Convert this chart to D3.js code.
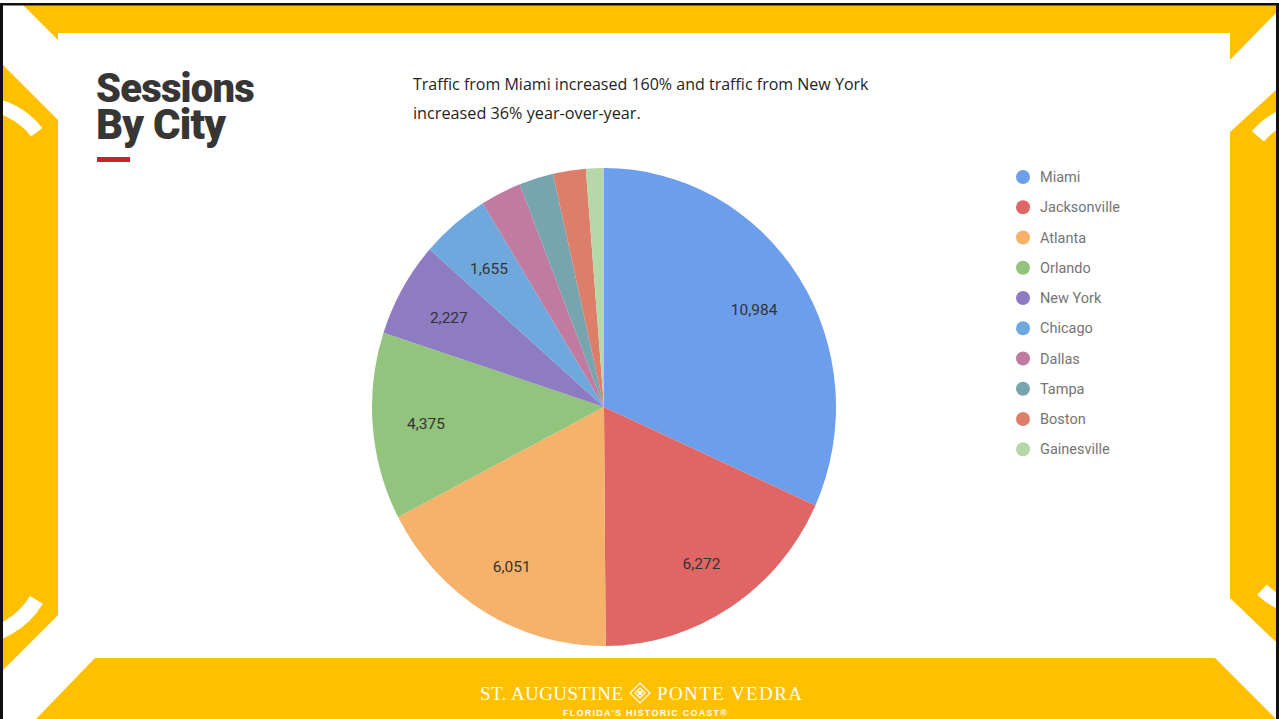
<!DOCTYPE html>
<html>
<head>
<meta charset="utf-8">
<script src="https://cdn.jsdelivr.net/npm/d3@7"></script>
<style>
  html, body { margin: 0; padding: 0; background: #fff; }
  svg { display: block; }
</style>
</head>
<body>
<div id="chart"></div>
<script>
// data
const cities = ["Miami", "Jacksonville", "Atlanta", "Orlando", "New York",
                "Chicago", "Dallas", "Tampa", "Boston", "Gainesville"];
const sessions = [10984, 6272, 6051, 4375, 2227, 1655, 980, 826, 788, 432];
const sliceColors = ["#6d9eeb", "#e06666", "#f6b26b", "#93c47d", "#8e7cc3",
                     "#6fa8dc", "#c27ba0", "#76a5af", "#dd7e6b", "#b6d7a8"];
const titleLines = ["Sessions", "By City"];
const noteLines = ["Traffic from Miami increased 160% and traffic from New York",
                   "increased 36% year-over-year."];

const W = 1279, H = 719;
const yellow = "#ffc000";

const svg = d3.select("#chart").append("svg")
  .attr("width", W)
  .attr("height", H);

svg.append("rect").attr("width", W).attr("height", H).attr("fill", "#fff");

// frame decoration
const frame = svg.append("g").attr("class", "frame");
const bands = [
  [[23,5],[1276,5],[1276,13],[1230,60],[1230,33],[58,33],[58,40]],
  [[3,65],[58,120],[58,615],[3,670]],
  [[1276,90],[1230,132],[1230,598],[1276,642]],
  [[95,658],[1215,658],[1276,719],[36,719]]
];
frame.selectAll("polygon").data(bands).enter().append("polygon")
  .attr("points", d => d.map(p => p.join(",")).join(" "))
  .attr("fill", yellow);

const deg = Math.PI / 180;
const rings = [
  {cx: -20, cy: 175, r0: 64, r1: 78, a0: 0, a1: 53},
  {cx: -30, cy: 560, r0: 70, r1: 85, a0: 121, a1: 180},
  {cx: 1310, cy: 180, r0: 60, r1: 76, a0: 310, a1: 360},
  {cx: 1310, cy: 540, r0: 62, r1: 76, a0: 180, a1: 224}
];
const ringArc = d3.arc();
frame.selectAll("path.ring").data(rings).enter().append("path")
  .attr("class", "ring")
  .attr("transform", d => `translate(${d.cx},${d.cy})`)
  .attr("d", d => ringArc({innerRadius: d.r0, outerRadius: d.r1,
                           startAngle: d.a0 * deg, endAngle: d.a1 * deg}))
  .attr("fill", "#fff");

// black edge lines
frame.append("rect").attr("x", 0).attr("y", 3).attr("width", W).attr("height", 2.5).attr("fill", "#111");
frame.append("rect").attr("x", 0).attr("y", 3).attr("width", 3).attr("height", H).attr("fill", "#111");
frame.append("rect").attr("x", 1276).attr("y", 3).attr("width", 3).attr("height", H).attr("fill", "#111");

// fit font size so that a text line has the wanted width
function fitWidth(sel, target) {
  const node = sel.node();
  const fs = parseFloat(sel.attr("font-size"));
  const len = node.getComputedTextLength();
  if (len > 0) sel.attr("font-size", fs * target / len);
}

// title, one text element with a tspan per line
const tWidths = [158, 129];
const title = svg.append("text")
  .attr("font-family", "Roboto, 'Noto Sans', sans-serif")
  .attr("font-weight", 900)
  .attr("letter-spacing", -0.8)
  .attr("fill", "#383634");
titleLines.forEach((t, i) => {
  const ts = title.append("tspan")
    .attr("x", 96)
    .attr("y", 102 + i * 37)
    .attr("font-size", 40)
    .text(t);
  const len = ts.node().getComputedTextLength();
  ts.attr("font-size", 40 * tWidths[i] / len);
});
svg.append("rect")
  .attr("x", 97).attr("y", 157).attr("width", 33).attr("height", 5)
  .attr("fill", "#d11f2e");

// note
const nWidths = [456, 228];
noteLines.forEach((t, i) => {
  const tx = svg.append("text")
    .attr("x", 413)
    .attr("y", 90 + i * 29)
    .attr("font-family", "'Open Sans', sans-serif")
    .attr("font-size", 16)
    .attr("fill", "#1e1e1e")
    .text(t);
  fitWidth(tx, nWidths[i]);
});

// pie
const cx = 604, cy = 407, rx = 232, ry = 239;
const pie = d3.pie().sort(null).value(d => d.value);
const slices = pie(cities.map((c, i) => ({city: c, value: sessions[i], color: sliceColors[i]})));
const arc = d3.arc().innerRadius(0).outerRadius(rx);
const labelArc = d3.arc().innerRadius(rx * 0.77).outerRadius(rx * 0.77);

const pieG = svg.append("g").attr("transform", `translate(${cx},${cy})`);
pieG.append("g").attr("transform", `scale(1,${ry / rx})`)
  .selectAll("path").data(slices).enter().append("path")
  .attr("d", arc)
  .attr("fill", d => d.data.color);

const fmt = d3.format(",");
pieG.selectAll("text").data(slices.filter(d => (d.endAngle - d.startAngle) > 14 * deg))
  .enter().append("text")
  .attr("x", d => labelArc.centroid(d)[0])
  .attr("y", d => labelArc.centroid(d)[1] * ry / rx + 2)
  .attr("dy", "0.35em")
  .attr("text-anchor", "middle")
  .attr("font-family", "Roboto, sans-serif")
  .attr("font-size", 15.5)
  .attr("fill", "#333")
  .text(d => fmt(d.data.value));

// legend
const legend = svg.append("g").attr("transform", "translate(1023,177)");
const legendRow = 30.25;
const items = legend.selectAll("g").data(cities).enter().append("g")
  .attr("transform", (d, i) => `translate(0,${i * legendRow})`);
items.append("circle").attr("r", 7).attr("fill", (d, i) => sliceColors[i]);
items.append("text")
  .attr("x", 17)
  .attr("dy", "0.35em")
  .attr("font-family", "Roboto, sans-serif")
  .attr("font-size", 14.5)
  .attr("fill", "#757575")
  .text(d => d);

// footer logo
const foot = svg.append("g").attr("fill", "#fff");
foot.append("text")
  .attr("x", 623).attr("y", 700)
  .attr("text-anchor", "end")
  .attr("font-family", "'Liberation Serif', 'DejaVu Serif', serif")
  .attr("font-size", 19)
  .attr("textLength", 143).attr("lengthAdjust", "spacing")
  .text("ST. AUGUSTINE");
foot.append("text")
  .attr("x", 657).attr("y", 700)
  .attr("font-family", "'Liberation Serif', 'DejaVu Serif', serif")
  .attr("font-size", 19)
  .attr("textLength", 145).attr("lengthAdjust", "spacing")
  .text("PONTE VEDRA");
const dia = foot.append("g").attr("transform", "translate(640,693)")
  .attr("fill", "none").attr("stroke", "#fff").attr("stroke-width", 1.2);
dia.append("path").attr("d", "M0,-10 L10,0 L0,10 L-10,0 Z");
dia.append("path").attr("d", "M0,-5 L5,0 L0,5 L-5,0 Z");
dia.append("rect").attr("x", -1.5).attr("y", -1.5).attr("width", 3).attr("height", 3).attr("fill", "#fff");
foot.append("text")
  .attr("x", 563).attr("y", 716)
  .attr("font-family", "'Liberation Sans', 'DejaVu Sans', sans-serif")
  .attr("font-size", 9)
  .attr("font-weight", 700)
  .attr("textLength", 164).attr("lengthAdjust", "spacing")
  .text("FLORIDA'S HISTORIC COAST®");
</script>
</body>
</html>
